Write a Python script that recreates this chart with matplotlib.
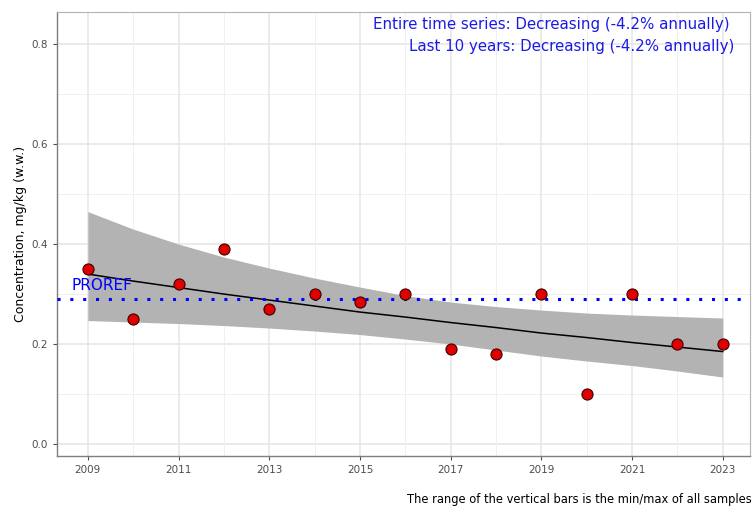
import matplotlib.pyplot as plt

# Yearly concentrations (median per year)
years = [2009, 2010, 2011, 2012, 2013, 2014, 2015, 2016,
         2017, 2018, 2019, 2020, 2021, 2022, 2023]
conc = [0.35, 0.25, 0.32, 0.39, 0.27, 0.30, 0.285, 0.30,
        0.19, 0.18, 0.30, 0.10, 0.30, 0.20, 0.20]

# Fitted trend and confidence band
trend = [0.340, 0.326, 0.313, 0.300, 0.288, 0.276, 0.264, 0.254,
         0.243, 0.233, 0.222, 0.213, 0.203, 0.194, 0.185]
band_hi = [0.465, 0.430, 0.400, 0.374, 0.352, 0.332, 0.314, 0.297,
           0.284, 0.275, 0.268, 0.262, 0.258, 0.255, 0.252]
band_lo = [0.247, 0.244, 0.241, 0.237, 0.232, 0.226, 0.219, 0.210,
           0.200, 0.188, 0.176, 0.166, 0.157, 0.146, 0.134]

proref = 0.29
trend_lines = ['Entire time series: Decreasing (-4.2% annually)',
               'Last 10 years: Decreasing (-4.2% annually)']
x_ticks = [2009, 2011, 2013, 2015, 2017, 2019, 2021, 2023]
y_ticks = [0.0, 0.2, 0.4, 0.6, 0.8]

fig = plt.figure(figsize=(7.56, 5.08), dpi=100)
ax = fig.add_axes([0.0754, 0.1024, 0.9166, 0.8736])

# grid like a light ggplot theme
for yy in [0.1, 0.3, 0.5, 0.7]:
    ax.axhline(yy, color='#f0f0f0', lw=0.7, zorder=0)
for yy in y_ticks:
    ax.axhline(yy, color='#e6e6e6', lw=1.1, zorder=0)
for xx in range(2010, 2023, 2):
    ax.axvline(xx, color='#f0f0f0', lw=0.7, zorder=0)
for xx in x_ticks:
    ax.axvline(xx, color='#e6e6e6', lw=1.1, zorder=0)

ax.fill_between(years, band_lo, band_hi, color='#b3b3b3', lw=0, zorder=1)
ax.plot(years, trend, color='black', lw=1.1, zorder=2)
ax.axhline(proref, color='#0000ff', lw=2.2, ls=(0, (1, 3.2)), zorder=3)
ax.text(2008.65, proref + 0.012, 'PROREF', color='#0000ff', fontsize=11,
        ha='left', va='bottom', zorder=3)
ax.scatter(years, conc, s=64, color='#e00000', edgecolor='#3a0000',
           linewidth=0.8, zorder=4)

ax.text(0.970, 0.99, trend_lines[0], transform=ax.transAxes, ha='right',
        va='top', color='#1a1ae6', fontsize=10.8)
ax.text(0.978, 0.94, trend_lines[1], transform=ax.transAxes, ha='right',
        va='top', color='#1a1ae6', fontsize=10.8)

ax.set_xlim(2008.32, 2023.6)
ax.set_ylim(-0.024, 0.864)
ax.set_xticks(x_ticks)
ax.set_yticks(y_ticks)
ax.set_yticklabels([f'{v:.1f}' for v in y_ticks])
ax.tick_params(labelsize=7.5, colors='#4d4d4d', length=3, width=0.8)
ax.set_ylabel('Concentration, mg/kg (w.w.)', fontsize=9, labelpad=3)

for side in ['top', 'right']:
    ax.spines[side].set_color('#b3b3b3')
    ax.spines[side].set_linewidth(0.8)
for side in ['left', 'bottom']:
    ax.spines[side].set_color('#7f7f7f')
    ax.spines[side].set_linewidth(1.0)

fig.text(0.995, 0.003, 'The range of the vertical bars is the min/max of all samples',
         ha='right', va='bottom', fontsize=8.3)

fig.savefig('out.png', dpi=100, facecolor='white')
